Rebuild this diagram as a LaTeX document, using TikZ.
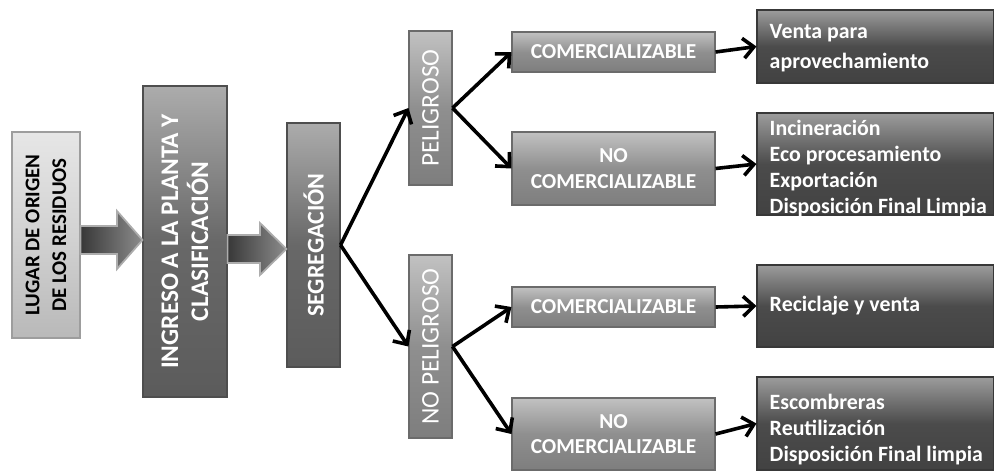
\documentclass[tikz,border=0pt]{standalone}
\usepackage{fontspec}
\setmainfont{Carlito}
\usetikzlibrary{arrows.meta,calc}
\newcommand\pxu{*0.75pt}
\definecolor{lightc}{HTML}{D2D2D2}
\definecolor{darkc}{HTML}{686868}
\definecolor{midc}{HTML}{8F8F8F}
\definecolor{resc}{HTML}{4B4B4B}
\begin{document}
\begin{tikzpicture}[x=0.75pt,y=-0.75pt,
  gbox/.style={draw=#1!75!black, line width=0.8pt, top color=#1!55!white, bottom color=#1!88!black, middle color=#1, inner sep=0pt},
  rtext/.style={rotate=90, align=center, inner sep=0pt},
  wtext/.style={text=white, font=\bfseries\fontsize{16}{19}\selectfont, align=center},
  restext/.style={text=white, font=\bfseries\fontsize{16.4}{19.5}\selectfont, align=left, inner sep=0pt, anchor=west},
  blockarrow/.style={left color=black!78, right color=black!45, draw=black!32, line width=1.3pt, line join=miter},
  conn/.style={line width=2.7pt, -{Straight Barb[length=8pt,width=15pt,line width=2.7pt]}}
]
\useasboundingbox (0,0) rectangle (994,475);

% main column boxes
\node[gbox=lightc, minimum width=68\pxu, minimum height=206\pxu] (lugar) at (46,235) {};
\node[rtext, font=\bfseries\fontsize{15.7}{20}\selectfont] (lugart) at (lugar) {LUGAR DE ORIGEN\\DE LOS RESIDUOS};

\node[gbox=darkc, minimum width=84\pxu, minimum height=311\pxu] (ingreso) at (185,241.5) {};
\node[rtext, text=white, font=\bfseries\fontsize{19}{22.5}\selectfont] (ingresot) at (ingreso) {INGRESO A LA PLANTA Y\\CLASIFICACIÓN};

\node[gbox=darkc, minimum width=53\pxu, minimum height=244\pxu] (segreg) at (313.5,245) {};
\node[rtext, text=white, font=\bfseries\fontsize{18}{22}\selectfont] (segregt) at (segreg) {SEGREGACIÓN};

\node[gbox=midc, minimum width=43\pxu, minimum height=154\pxu] (pelig) at (430.5,108) {};
\node[rtext, text=white, font=\fontsize{19}{22}\selectfont] (peligt) at (pelig) {PELIGROSO};

\node[gbox=midc, minimum width=43\pxu, minimum height=183\pxu] (nopelig) at (430.5,346.5) {};
\node[rtext, text=white, font=\fontsize{19}{22}\selectfont] (nopeligt) at (nopelig) {NO PELIGROSO};

% block arrows
\filldraw[blockarrow] (lugar.east |- 0,226) -- (117,226) -- (117,211) -- (ingreso.west |- 0,240)
  -- (117,269) -- (117,254) -- (lugar.east |- 0,254) -- cycle;
\filldraw[blockarrow] (ingreso.east |- 0,235) -- (260,235) -- (260,223) -- (segreg.west |- 0,249)
  -- (260,275) -- (260,263) -- (ingreso.east |- 0,263) -- cycle;

% second level
\node[gbox=midc, wtext, minimum width=203\pxu, minimum height=40\pxu] (com1) at (613.5,52) {COMERCIALIZABLE};
\node[gbox=midc, wtext, minimum width=203\pxu, minimum height=73\pxu] (nocom1) at (613.5,168.5) {NO\\COMERCIALIZABLE};
\node[gbox=midc, wtext, minimum width=203\pxu, minimum height=40\pxu] (com2) at (613.5,307) {COMERCIALIZABLE};
\node[gbox=midc, wtext, minimum width=203\pxu, minimum height=72\pxu] (nocom2) at (613.5,434) {NO\\COMERCIALIZABLE};

% results
\node[gbox=resc, minimum width=237\pxu, minimum height=73\pxu] (res1) at (875.5,46.5) {};
\node[restext, font=\bfseries\fontsize{16.4}{22.5}\selectfont] (res1t) at ([xshift=13\pxu,yshift=-2\pxu]res1.west) {Venta para\\aprovechamiento};
\node[gbox=resc, minimum width=237\pxu, minimum height=102\pxu] (res2) at (875.5,164) {};
\node[restext] (res2t) at ([xshift=13\pxu,yshift=-5\pxu]res2.west) {Incineración\\Eco procesamiento\\Exportación\\Disposición Final Limpia};
\node[gbox=resc, minimum width=237\pxu, minimum height=82\pxu] (res3) at (875.5,306) {};
\node[restext] (res3t) at ([xshift=13\pxu]res3.west) {Reciclaje y venta};
\node[gbox=resc, minimum width=237\pxu, minimum height=93\pxu] (res4) at (875.5,423.5) {};
\node[restext] (res4t) at ([xshift=13\pxu,yshift=-6\pxu]res4.west) {Escombreras\\Reutilización\\Disposición Final limpia};

% connectors
\draw[conn] (segreg.east) -- (pelig.west);
\draw[conn] (segreg.east) -- (nopelig.west);
\draw[conn] (pelig.east) -- (com1.west);
\draw[conn] (pelig.east) -- (nocom1.west);
\draw[conn] (nopelig.east) -- (com2.west);
\draw[conn] (nopelig.east) -- (nocom2.west);
\draw[conn] (com1.east) -- (res1.west);
\draw[conn] (nocom1.east) -- (res2.west);
\draw[conn] (com2.east) -- (res3.west);
\draw[conn] (nocom2.east) -- (res4.west);
\end{tikzpicture}
\end{document}
